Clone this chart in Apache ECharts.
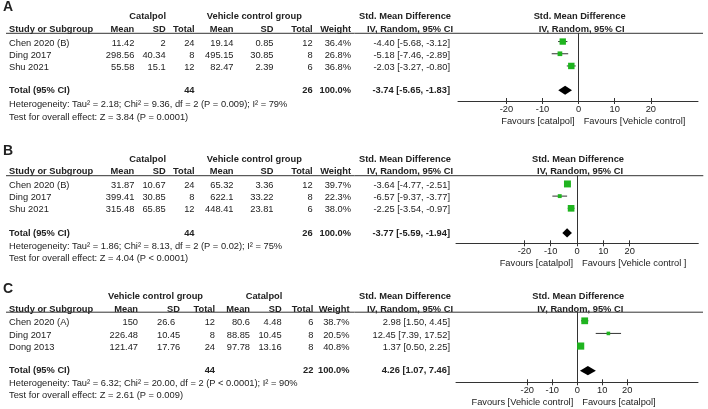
<!DOCTYPE html>
<html><head><meta charset="utf-8">
<script src="https://cdn.jsdelivr.net/npm/echarts@6/dist/echarts.min.js"></script>
<style>html,body{margin:0;padding:0;background:#fff}#c{width:708px;height:409px}</style>
</head><body><div id="c"></div>
<script>
// ---------- Panel A data ----------
const A_studies = ['Chen 2020 (B)', 'Ding 2017', 'Shu 2021'];
const A_catMean = [11.42, 298.56, 55.58];
const A_catSD = [2, 40.34, 15.1];
const A_catN = [24, 8, 12];
const A_vehMean = [19.14, 495.15, 82.47];
const A_vehSD = [0.85, 30.85, 2.39];
const A_vehN = [12, 8, 6];
const A_weight = [36.4, 26.8, 36.8];
const A_smd = [-4.40, -5.18, -2.03];
const A_lo = [-5.68, -7.46, -3.27];
const A_hi = [-3.12, -2.89, -0.80];
const A_total = [-3.74, -5.65, -1.83];
const A_totalN = [44, 26];
const A_het = 'Heterogeneity: Tau\u00B2 = 2.18; Chi\u00B2 = 9.36, df = 2 (P = 0.009); I\u00B2 = 79%';
const A_test = 'Test for overall effect: Z = 3.84 (P = 0.0001)';

// ---------- Panel B data ----------
const B_studies = ['Chen 2020 (B)', 'Ding 2017', 'Shu 2021'];
const B_catMean = [31.87, 399.41, 315.48];
const B_catSD = [10.67, 30.85, 65.85];
const B_catN = [24, 8, 12];
const B_vehMean = [65.32, 622.1, 448.41];
const B_vehSD = [3.36, 33.22, 23.81];
const B_vehN = [12, 8, 6];
const B_weight = [39.7, 22.3, 38.0];
const B_smd = [-3.64, -6.57, -2.25];
const B_lo = [-4.77, -9.37, -3.54];
const B_hi = [-2.51, -3.77, -0.97];
const B_total = [-3.77, -5.59, -1.94];
const B_totalN = [44, 26];
const B_het = 'Heterogeneity: Tau\u00B2 = 1.86; Chi\u00B2 = 8.13, df = 2 (P = 0.02); I\u00B2 = 75%';
const B_test = 'Test for overall effect: Z = 4.04 (P < 0.0001)';

// ---------- Panel C data (vehicle first, then catalpol) ----------
const C_studies = ['Chen 2020 (A)', 'Ding 2017', 'Dong 2013'];
const C_vehMean = [150, 226.48, 121.47];
const C_vehSD = [26.6, 10.45, 17.76];
const C_vehN = [12, 8, 24];
const C_catMean = [80.6, 88.85, 97.78];
const C_catSD = [4.48, 10.45, 13.16];
const C_catN = [6, 8, 8];
const C_weight = [38.7, 20.5, 40.8];
const C_smd = [2.98, 12.45, 1.37];
const C_lo = [1.50, 7.39, 0.50];
const C_hi = [4.45, 17.52, 2.25];
const C_total = [4.26, 1.07, 7.46];
const C_totalN = [44, 22];
const C_het = 'Heterogeneity: Tau\u00B2 = 6.32; Chi\u00B2 = 20.00, df = 2 (P < 0.0001); I\u00B2 = 90%';
const C_test = 'Test for overall effect: Z = 2.61 (P = 0.009)';

const tickValues = [-20, -10, 0, 10, 20];

const panels = [
  { letter: 'A', studies: A_studies,
    g1: { name: 'Catalpol', mean: A_catMean, sd: A_catSD, n: A_catN },
    g2: { name: 'Vehicle control group', mean: A_vehMean, sd: A_vehSD, n: A_vehN },
    weight: A_weight, smd: A_smd, lo: A_lo, hi: A_hi, total: A_total, totalN: A_totalN,
    het: A_het, test: A_test, favL: 'Favours [catalpol]', favR: 'Favours [Vehicle control]' },
  { letter: 'B', studies: B_studies,
    g1: { name: 'Catalpol', mean: B_catMean, sd: B_catSD, n: B_catN },
    g2: { name: 'Vehicle control group', mean: B_vehMean, sd: B_vehSD, n: B_vehN },
    weight: B_weight, smd: B_smd, lo: B_lo, hi: B_hi, total: B_total, totalN: B_totalN,
    het: B_het, test: B_test, favL: 'Favours [catalpol]', favR: 'Favours [Vehicle control ]' },
  { letter: 'C', studies: C_studies,
    g1: { name: 'Vehicle control group', mean: C_vehMean, sd: C_vehSD, n: C_vehN },
    g2: { name: 'Catalpol', mean: C_catMean, sd: C_catSD, n: C_catN },
    weight: C_weight, smd: C_smd, lo: C_lo, hi: C_hi, total: C_total, totalN: C_totalN,
    het: C_het, test: C_test, favL: 'Favours [Vehicle control]', favR: 'Favours [catalpol]' }
];

// ---------- layout (positions / styles only) ----------
const colsAB = { study: 9, m1: [134.3, 'right'], s1: [165.7, 'right'], n1: [194.5, 'right'],
  m2: [233.5, 'right'], s2: [273.5, 'right'], n2: [312.7, 'right'], w: 351, eff: 450,
  h1: 147.7, h2: 254.3, hs1: 165.7 };
const colsC = { study: 9, m1: [138, 'right'], s1: [157, 'left'], n1: [215, 'right'],
  m2: [250, 'right'], s2: [281.7, 'right'], n2: [313.3, 'right'], w: 349.5, eff: 450,
  h1: 155.5, h2: 264, hs1: 180 };
const layout = [
  { top: 33.3, bottom: 101, left: 458, right: 698, xmin: -33.4, xmax: 33.05, cols: colsAB,
    letterRow: -2.95, grpRow: -2.18, subRow: -1.08, totRow: 3.87, hetRow: 5.07, testRow: 6.07 },
  { top: 175.7, bottom: 243.3, left: 456, right: 698.3, xmin: -46.0, xmax: 46.1, cols: colsAB,
    letterRow: -2.8, grpRow: -2.15, subRow: -1.15, totRow: 3.9, hetRow: 4.97, testRow: 5.98 },
  { top: 312.2, bottom: 382.3, left: 456, right: 698, xmin: -48.5, xmax: 48.3, cols: colsC,
    letterRow: -2.6, grpRow: -2.05, subRow: -1.05, totRow: 3.83, hetRow: 4.8, testRow: 5.77 }
];
const YMIN = -0.8, YMAX = 4.75;
const FONT = 'Arial, "Liberation Sans", Helvetica, sans-serif';
const TXT = '#222';
const LINE = '#333';
const GREEN = '#1fb41f';
const FS = 9.3;

const chart = echarts.init(document.getElementById('c'), null, { renderer: 'canvas' });

const grids = [], xAxes = [], extraX = [], yAxes = [], series = [];
panels.forEach((p, i) => {
  const L = layout[i];
  grids.push({ left: L.left, top: L.top, width: L.right - L.left, height: L.bottom - L.top, containLabel: false });
  xAxes.push({
    type: 'value', gridIndex: i, min: L.xmin, max: L.xmax, position: 'bottom',
    axisLine: { show: true, onZero: false, lineStyle: { color: LINE, width: 1 } },
    axisTick: { show: true, customValues: tickValues, length: 3, lineStyle: { color: LINE } },
    axisLabel: { show: true, customValues: tickValues, margin: 4, fontSize: FS, color: TXT, fontFamily: FONT },
    splitLine: { show: false }
  });
  // second axis on the same line: ticks pointing up so ticks straddle the axis
  extraX.push({
    type: 'value', gridIndex: i, min: L.xmin, max: L.xmax, position: 'bottom', offset: 0,
    axisLine: { show: false, onZero: false },
    axisTick: { show: true, inside: true, customValues: tickValues, length: 3, lineStyle: { color: LINE } },
    axisLabel: { show: false }, splitLine: { show: false }
  });
  yAxes.push({
    type: 'value', gridIndex: i, inverse: true, min: YMIN, max: YMAX,
    axisLine: { show: true, onZero: true, onZeroAxisIndex: i, lineStyle: { color: LINE, width: 1 } },
    axisTick: { show: false }, axisLabel: { show: false }, splitLine: { show: false }
  });
  const studyData = p.smd.map((v, k) => [v, p.lo[k], p.hi[k], k, p.weight[k]]);
  series.push({
    type: 'custom', xAxisIndex: i, yAxisIndex: i, silent: true,
    dimensions: ['est', 'lo', 'hi', 'row', 'w'],
    encode: { x: [0, 1, 2], y: 3 },
    data: studyData,
    renderItem: (params, api) => {
      const row = api.value(3);
      const a = api.coord([api.value(1), row]);
      const b = api.coord([api.value(2), row]);
      const c = api.coord([api.value(0), row]);
      const s = api.value(4) * 0.175;
      const off = -1.5;
      return { type: 'group', children: [
        { type: 'line', shape: { x1: a[0], y1: a[1] + off, x2: b[0], y2: b[1] + off }, style: { stroke: LINE, lineWidth: 1 } },
        { type: 'rect', shape: { x: c[0] - s / 2, y: c[1] + off - s / 2, width: s, height: s }, style: { fill: GREEN } }
      ] };
    }
  });
  series.push({
    type: 'custom', xAxisIndex: i, yAxisIndex: i, silent: true,
    dimensions: ['est', 'lo', 'hi', 'row'],
    encode: { x: [0, 1, 2], y: 3 },
    data: [[p.total[0], p.total[1], p.total[2], L.totRow]],
    renderItem: (params, api) => {
      const row = api.value(3);
      const a = api.coord([api.value(1), row]);
      const b = api.coord([api.value(2), row]);
      const c = api.coord([api.value(0), row]);
      const h = 4.6;
      return { type: 'polygon', shape: { points: [[a[0], a[1]], [c[0], c[1] - h], [b[0], b[1]], [c[0], c[1] + h]] },
        style: { fill: '#000' } };
    }
  });
});

chart.setOption({ animation: false, grid: grids, xAxis: xAxes.concat(extraX), yAxis: yAxes, series: series });

// ---------- table text ----------
const G = [];
function txt(text, x, y, align, bold, size) {
  G.push({ type: 'text', x: x, y: y, silent: true,
    style: { text: String(text), font: (bold ? 'bold ' : '') + (size || FS) + 'px ' + FONT, fill: TXT,
      align: align, verticalAlign: 'middle', textAlign: align, textVerticalAlign: 'middle' } });
}
function fmt(v) { return v.toFixed(2); }
function eff(a, b, c) { return fmt(a) + ' [' + fmt(b) + ', ' + fmt(c) + ']'; }

panels.forEach((p, i) => {
  const L = layout[i], C = L.cols;
  const Y = r => chart.convertToPixel({ gridIndex: i }, [0, r])[1];
  const X0 = chart.convertToPixel({ gridIndex: i }, [0, 0])[0];
  txt(p.letter, 3, Y(L.letterRow), 'left', true, 14);
  // group headers
  txt(p.g1.name, C.h1, Y(L.grpRow), 'center', true);
  txt(p.g2.name, C.h2, Y(L.grpRow), 'center', true);
  txt('Std. Mean Difference', 405, Y(L.grpRow), 'center', true);
  txt('Std. Mean Difference', X0 + 1, Y(L.grpRow), 'center', true);
  // sub headers
  const sr = Y(L.subRow);
  txt('Study or Subgroup', C.study, sr, 'left', true);
  txt('Mean', C.m1[0], sr, 'right', true);
  txt('SD', C.hs1, sr, 'right', true);
  txt('Total', C.n1[0], sr, 'right', true);
  txt('Mean', C.m2[0], sr, 'right', true);
  txt('SD', C.s2[0], sr, 'right', true);
  txt('Total', C.n2[0], sr, 'right', true);
  txt('Weight', C.w, sr, 'right', true);
  txt('IV, Random, 95% CI', 410, sr, 'center', true);
  txt('IV, Random, 95% CI', X0 + 3, sr, 'center', true);
  // header rule
  G.push({ type: 'line', silent: true, shape: { x1: 6, y1: L.top, x2: L.right + 5, y2: L.top },
    style: { stroke: LINE, lineWidth: 1 } });
  // study rows
  p.studies.forEach((s, k) => {
    const y = Y(k);
    txt(s, C.study, y, 'left');
    txt(p.g1.mean[k], C.m1[0], y, C.m1[1]);
    txt(p.g1.sd[k], C.s1[0], y, C.s1[1]);
    txt(p.g1.n[k], C.n1[0], y, C.n1[1]);
    txt(p.g2.mean[k], C.m2[0], y, C.m2[1]);
    txt(p.g2.sd[k], C.s2[0], y, C.s2[1]);
    txt(p.g2.n[k], C.n2[0], y, C.n2[1]);
    txt(p.weight[k].toFixed(1) + '%', C.w, y, 'right');
    txt(eff(p.smd[k], p.lo[k], p.hi[k]), C.eff, y, 'right');
  });
  // total row
  const ty = Y(L.totRow);
  txt('Total (95% CI)', C.study, ty, 'left', true);
  txt(p.totalN[0], C.n1[0], ty, 'right', true);
  txt(p.totalN[1], C.n2[0], ty, 'right', true);
  txt('100.0%', C.w, ty, 'right', true);
  txt(eff(p.total[0], p.total[1], p.total[2]), C.eff, ty, 'right', true);
  txt(p.het, C.study, Y(L.hetRow), 'left');
  txt(p.test, C.study, Y(L.testRow), 'left');
  // favours labels
  const fy = L.bottom + 20.5;
  txt(p.favL, X0 - 4, fy, 'right');
  txt(p.favR, X0 + 5, fy, 'left');
});

chart.setOption({ graphic: { elements: G } });
</script></body></html>
